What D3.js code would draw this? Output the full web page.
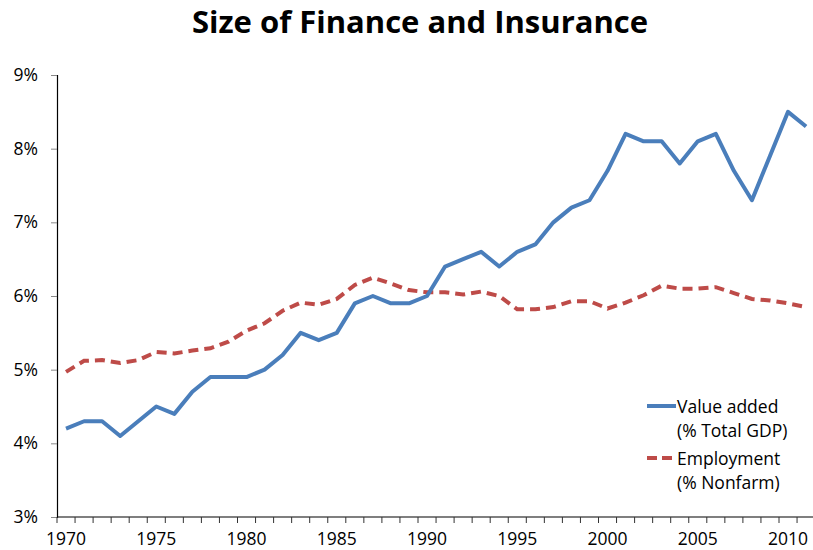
<!DOCTYPE html>
<html>
<head>
<meta charset="utf-8">
<script src="https://cdn.jsdelivr.net/npm/d3@7"></script>
<style>
  body { margin: 0; background: #fff; }
  svg text { font-family: "Open Sans", sans-serif; fill: #000; }
</style>
</head>
<body>
<div id="chart"></div>
<script>
// data
var years = d3.range(1970, 2012);
var valueAdded = [
  4.2, 4.3, 4.3, 4.1, 4.3, 4.5, 4.4, 4.7, 4.9, 4.9,
  4.9, 5.0, 5.2, 5.5, 5.4, 5.5, 5.9, 6.0, 5.9, 5.9,
  6.0, 6.4, 6.5, 6.6, 6.4, 6.6, 6.7, 7.0, 7.2, 7.3,
  7.7, 8.2, 8.1, 8.1, 7.8, 8.1, 8.2, 7.7, 7.3, 7.9,
  8.5, 8.3
];
var employment = [
  4.97, 5.12, 5.13, 5.09, 5.13, 5.24, 5.22, 5.26, 5.29, 5.38,
  5.53, 5.63, 5.80, 5.91, 5.88, 5.96, 6.15, 6.25, 6.17, 6.08,
  6.05, 6.05, 6.02, 6.06, 6.00, 5.82, 5.82, 5.85, 5.93, 5.93,
  5.83, 5.91, 6.01, 6.14, 6.10, 6.10, 6.12, 6.04, 5.96, 5.94,
  5.90, 5.85
];
var yTicks = [3, 4, 5, 6, 7, 8, 9];
var xLabels = [1970, 1975, 1980, 1985, 1990, 1995, 2000, 2005, 2010];
var seriesNames = [["Value added", "(% Total GDP)"], ["Employment", "(% Nonfarm)"]];

var width = 813, height = 550;
var plotLeft = 57, plotTop = 75, plotBottom = 517;
var plotRight = plotLeft + years.length * 18.05;

var svg = d3.select("#chart").append("svg")
  .attr("width", width)
  .attr("height", height);

svg.append("text")
  .attr("x", 420)
  .attr("y", 33)
  .attr("text-anchor", "middle")
  .style("font-size", "31px")
  .style("font-weight", "bold")
  .text("Size of Finance and Insurance");

var x = d3.scaleBand().domain(years).range([plotLeft, plotRight]);
var y = d3.scaleLinear().domain([3, 9]).range([plotBottom, plotTop]);
var cx = d => x(d) + x.bandwidth() / 2;

// y axis
var yAxis = svg.append("g")
  .attr("transform", `translate(${plotLeft},0)`)
  .call(d3.axisLeft(y).tickValues(yTicks).tickSize(6).tickPadding(13)
    .tickFormat(d => d + "%"));
yAxis.select(".domain").attr("stroke", "#000").attr("stroke-width", 1.2);
yAxis.selectAll(".tick line").attr("stroke", "#888");
yAxis.selectAll("text").style("font-size", "17.5px");

// x axis: ticks between categories, labels every 5 years
var xAxis = svg.append("g").attr("transform", `translate(0,${plotBottom})`);
xAxis.append("line")
  .attr("x1", plotLeft).attr("x2", plotRight)
  .attr("stroke", "#000").attr("stroke-width", 1.2);
xAxis.selectAll(".tk")
  .data(d3.range(years.length + 1))
  .enter().append("line")
  .attr("x1", i => plotLeft + i * x.step())
  .attr("x2", i => plotLeft + i * x.step())
  .attr("y1", 0).attr("y2", 6)
  .attr("stroke", "#333");
xAxis.selectAll(".lb")
  .data(xLabels)
  .enter().append("text")
  .attr("x", d => cx(d))
  .attr("y", 28)
  .attr("text-anchor", "middle")
  .style("font-size", "17.5px")
  .text(d => d);

var line = d3.line().x((d, i) => cx(years[i])).y(d => y(d));

svg.append("path")
  .datum(employment)
  .attr("d", line)
  .attr("fill", "none")
  .attr("stroke", "#BE4B48")
  .attr("stroke-width", 4)
  .attr("stroke-dasharray", "10,6");

svg.append("path")
  .datum(valueAdded)
  .attr("d", line)
  .attr("fill", "none")
  .attr("stroke", "#4A7EBB")
  .attr("stroke-width", 4)
  .attr("stroke-linejoin", "round");

// legend
var legend = svg.append("g").attr("transform", "translate(647,406)");
var colors = ["#4A7EBB", "#BE4B48"];
seriesNames.forEach((s, i) => {
  var g = legend.append("g").attr("transform", `translate(0,${i * 52})`);
  g.append("line")
    .attr("x1", 0).attr("x2", 29)
    .attr("stroke", colors[i])
    .attr("stroke-width", 4)
    .attr("stroke-dasharray", i == 1 ? "10,5" : null);
  g.append("text").attr("x", 30).attr("y", 7).style("font-size", "17.5px").text(s[0]);
  g.append("text").attr("x", 30).attr("y", 31).style("font-size", "17.5px").text(s[1]);
});
</script>
</body>
</html>
